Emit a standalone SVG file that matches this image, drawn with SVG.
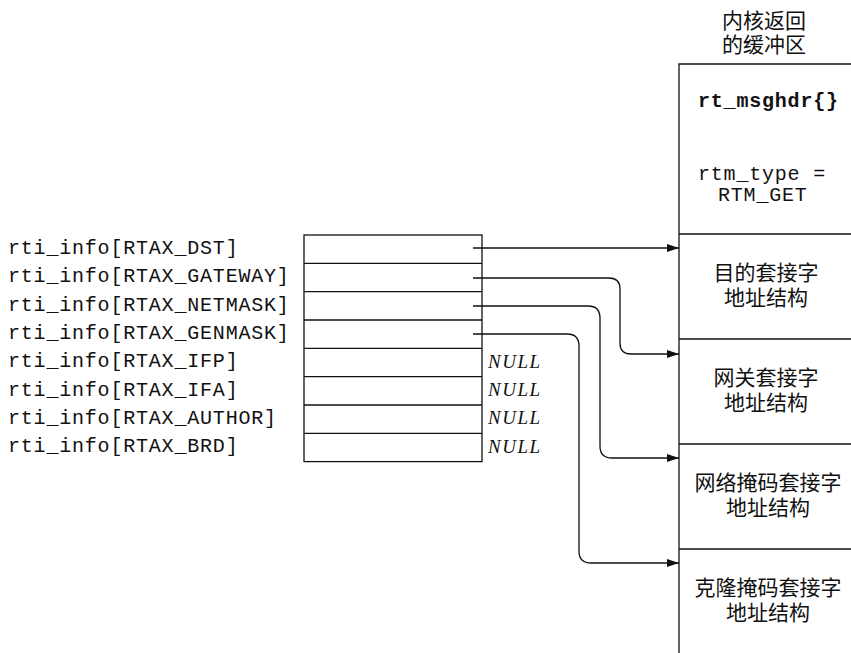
<svg xmlns="http://www.w3.org/2000/svg" width="851" height="653" viewBox="0 0 851 653">
<style>
.lbl{font-family:"Liberation Mono",monospace;font-size:20px;letter-spacing:0.8px;fill:#111}
.bold{font-weight:bold}
.null{font-family:"Liberation Serif",serif;font-style:italic;font-size:19px;letter-spacing:1.5px;fill:#111}
.cjk{font-family:"Liberation Serif","Noto Sans CJK SC",sans-serif;font-size:21px;fill:#111;text-anchor:middle}
.ln{fill:none;stroke:#111;stroke-width:1.3}
.conn{fill:none;stroke:#111;stroke-width:1.3;marker-end:url(#ah)}
</style>
<defs>
<marker id="ah" markerUnits="userSpaceOnUse" markerWidth="13" markerHeight="9" refX="12" refY="4" orient="auto">
<path d="M0,0 L12,4 L0,8 z" fill="#111"/>
</marker>
</defs>
<rect width="851" height="653" fill="#fff"/>

<g id="array">
<rect class="ln" x="304" y="235" width="178" height="226.6"/>
<path class="ln" d="M304,263.3H482M304,291.6H482M304,320H482M304,348.3H482M304,376.6H482M304,405H482M304,433.3H482"/>
<text class="lbl" x="8" y="254">rti_info[RTAX_DST]</text>
<text class="lbl" x="8" y="282">rti_info[RTAX_GATEWAY]</text>
<text class="lbl" x="8" y="311">rti_info[RTAX_NETMASK]</text>
<text class="lbl" x="8" y="339">rti_info[RTAX_GENMASK]</text>
<text class="lbl" x="8" y="367">rti_info[RTAX_IFP]</text>
<text class="lbl" x="8" y="396">rti_info[RTAX_IFA]</text>
<text class="lbl" x="8" y="424">rti_info[RTAX_AUTHOR]</text>
<text class="lbl" x="8" y="452">rti_info[RTAX_BRD]</text>
<text class="null" x="488" y="368">NULL</text>
<text class="null" x="488" y="396">NULL</text>
<text class="null" x="488" y="424">NULL</text>
<text class="null" x="488" y="453">NULL</text>
</g>

<g id="buffer">
<text class="cjk" x="764" y="28">内核返回</text>
<text class="cjk" x="764" y="52">的缓冲区</text>
<path class="ln" d="M851,64H679V653"/>
<text class="lbl bold" x="698" y="107">rt_msghdr{}</text>
<text class="lbl" x="698" y="180">rtm_type =</text>
<text class="lbl" x="718" y="201">RTM_GET</text>
</g>

<g id="dst">
<path class="ln" d="M679,234H851"/>
<text class="cjk" x="766" y="280">目的套接字</text>
<text class="cjk" x="766" y="305">地址结构</text>
</g>
<g id="gateway">
<path class="ln" d="M679,339H851"/>
<text class="cjk" x="766" y="385">网关套接字</text>
<text class="cjk" x="766" y="410">地址结构</text>
</g>
<g id="netmask">
<path class="ln" d="M679,444H851"/>
<text class="cjk" x="768" y="490">网络掩码套接字</text>
<text class="cjk" x="768" y="515">地址结构</text>
</g>
<g id="genmask">
<path class="ln" d="M679,549H851"/>
<text class="cjk" x="768" y="595">克隆掩码套接字</text>
<text class="cjk" x="768" y="620">地址结构</text>
</g>

<g id="connectors">
<path class="conn" d="M473,248H679"/>
<path class="conn" d="M473,278H609Q620,278 620,289V343Q620,354 631,354H679"/>
<path class="conn" d="M473,306H588Q600,306 600,318V446Q600,458 612,458H679"/>
<path class="conn" d="M473,334H567Q579,334 579,346V551Q579,563 591,563H679"/>
</g>
</svg>
